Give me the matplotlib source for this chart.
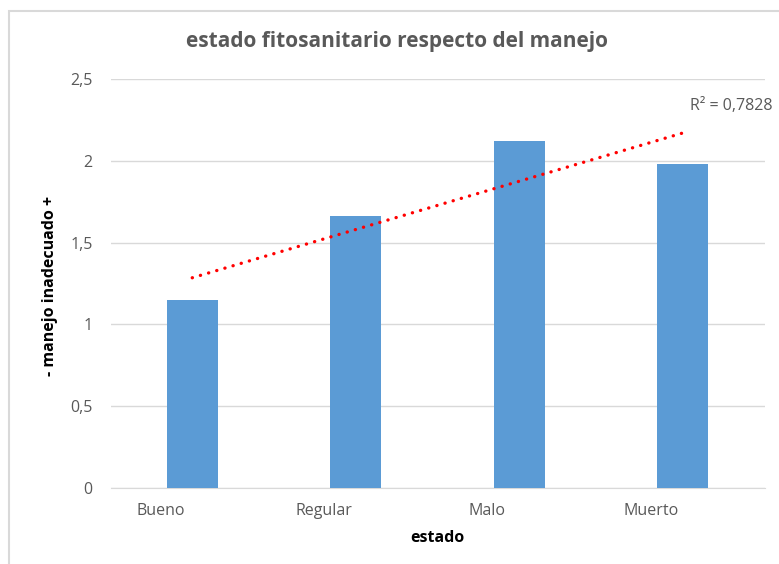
import numpy as np
import matplotlib
matplotlib.use("Agg")
import matplotlib.pyplot as plt
from matplotlib.patches import Rectangle
from matplotlib.transforms import ScaledTranslation

categories = ["Bueno", "Regular", "Malo", "Muerto"]
values = [1.15, 1.66, 2.12, 1.98]
yticks = [0, 0.5, 1, 1.5, 2, 2.5]
ytick_labels = ["0", "0,5", "1", "1,5", "2", "2,5"]
title = "estado fitosanitario respecto del manejo"
xlabel = "estado"
ylabel = "- manejo inadecuado +"

plt.rcParams['font.family'] = ['Open Sans', 'DejaVu Sans']
W, H = 779, 564
fig = plt.figure(figsize=(W/100, H/100), dpi=100)
fig.patch.set_facecolor("white")

# chart border (only left/top visible in reference)
fig.add_artist(Rectangle((9/W, -0.1), 1.2, 1 - 11/H + 0.1, transform=fig.transFigure,
                         fill=False, edgecolor="#d9d9d9", linewidth=1.5))

ax = fig.add_axes([110.5/W, 1 - 488/H, (764.5-110.5)/W, (488-79)/H])
x = np.arange(1, len(categories) + 1)
ax.bar(x, values, width=0.31, color="#5b9bd5", zorder=3)

# linear trendline
coef = np.polyfit(x, values, 1)
fit = np.polyval(coef, x)
r2 = 1 - np.sum((np.array(values) - fit)**2) / np.sum((np.array(values) - np.mean(values))**2)
ax.plot([x[0], x[-1]], np.polyval(coef, [x[0], x[-1]]), linestyle=(0, (0.05, 2.5)),
        color="#ff0000", linewidth=2.4, zorder=4, dash_capstyle="round")

ax.set_xlim(0.5, len(categories) + 0.5)
ax.set_ylim(0, 2.5)
ax.set_yticks(yticks)
ax.set_yticklabels(ytick_labels)
ax.set_xticks(x)
ax.set_xticklabels(categories)
ax.grid(axis="y", color="#d9d9d9", linewidth=1, zorder=0)
ax.set_axisbelow(True)
for s in ["top", "right", "left"]:
    ax.spines[s].set_visible(False)
ax.spines["bottom"].set_color("#d9d9d9")
ax.tick_params(axis="both", length=0, colors="#595959", labelsize=11.5)
ax.tick_params(axis="y", pad=13)
ax.tick_params(axis="x", pad=11)
shift = ScaledTranslation(-0.32, 0, fig.dpi_scale_trans)
for lab in ax.get_xticklabels():
    lab.set_transform(lab.get_transform() + shift)

fig.text(397/W, 1 - 41/H, title, ha="center", va="center", fontsize=15,
         fontweight="bold", color="#595959")
fig.text(437/W, 1 - 538/H, xlabel, ha="center", va="center", fontsize=11.5,
         fontweight="bold", color="#000000")
fig.text(50/W, 1 - 286/H, ylabel, ha="center", va="center", rotation=90,
         fontsize=11.5, fontweight="bold", color="#000000")
fig.text(690/W, 1 - 106/H, "R² = " + f"{r2:.4f}".replace(".", ","), ha="left",
         va="center", fontsize=11.5, color="#595959")

fig.savefig("out.png", dpi=100, facecolor="white")
